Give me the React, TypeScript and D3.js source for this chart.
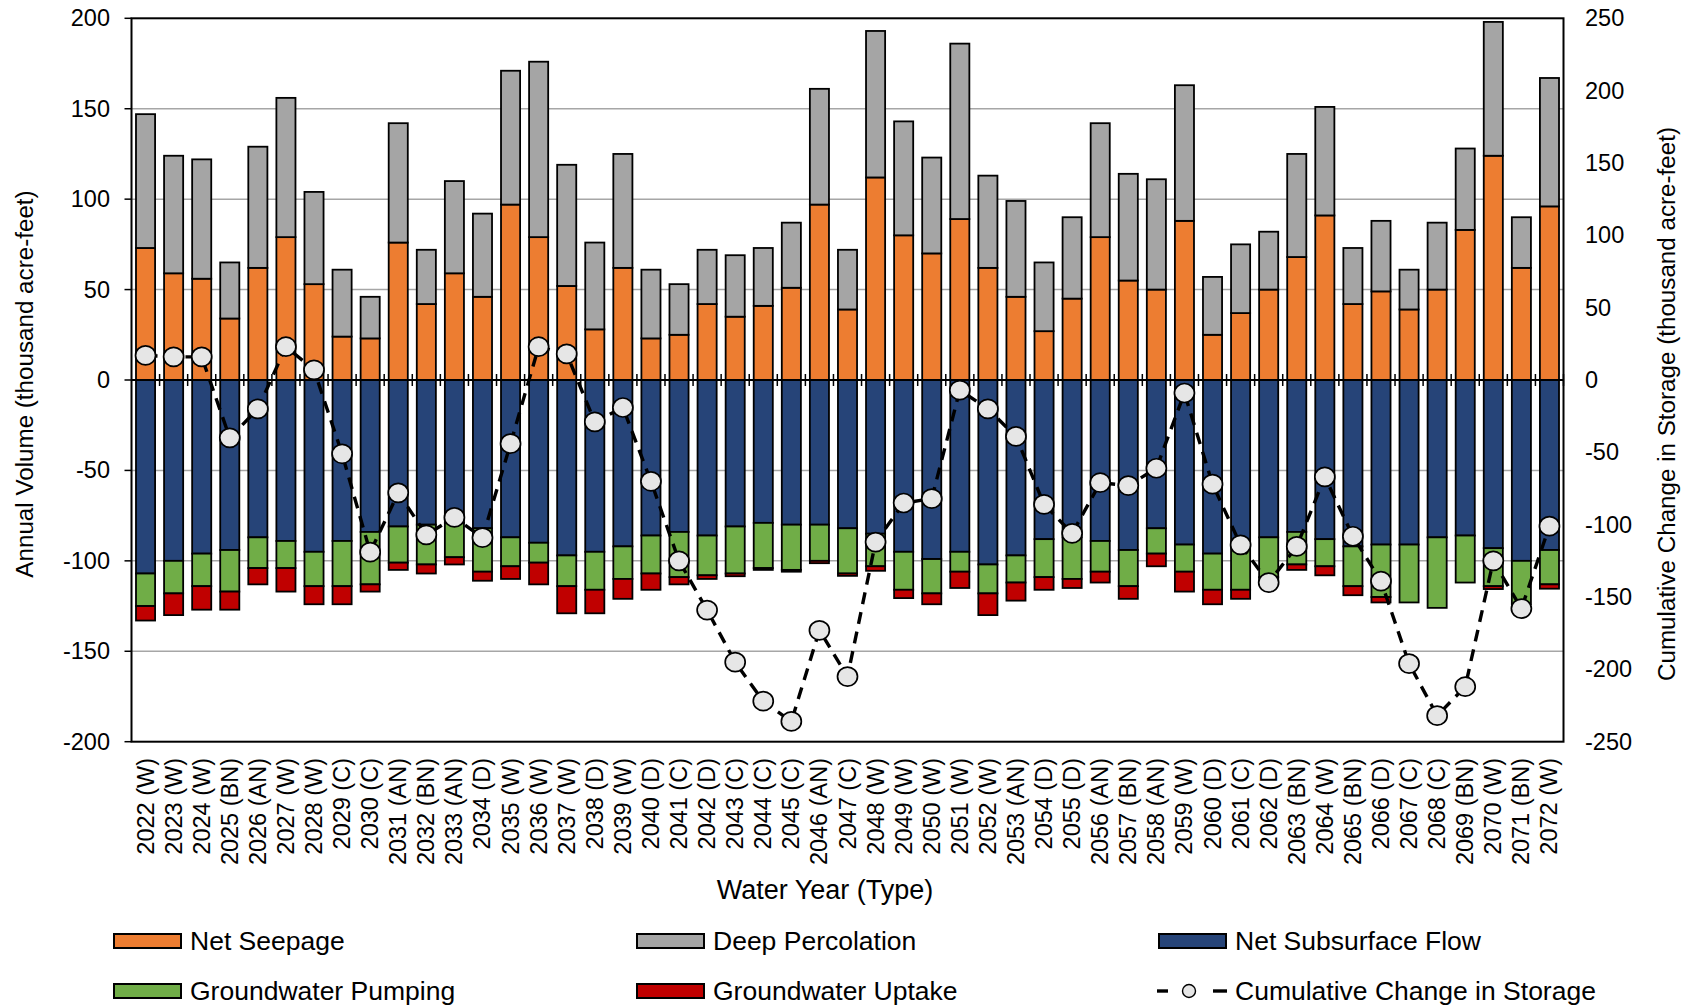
import React from 'react';
import * as d3 from 'd3';

// Water years and their type classification
const years = [
  2022, 2023, 2024, 2025, 2026, 2027, 2028, 2029, 2030, 2031, 2032, 2033, 2034, 2035, 2036, 2037, 2038,
  2039, 2040, 2041, 2042, 2043, 2044, 2045, 2046, 2047, 2048, 2049, 2050, 2051, 2052, 2053, 2054, 2055,
  2056, 2057, 2058, 2059, 2060, 2061, 2062, 2063, 2064, 2065, 2066, 2067, 2068, 2069, 2070, 2071, 2072,
];
const yearTypes = [
  'W', 'W', 'W', 'BN', 'AN', 'W', 'W', 'C', 'C', 'AN', 'BN', 'AN', 'D', 'W', 'W', 'W', 'D',
  'W', 'D', 'C', 'D', 'C', 'C', 'C', 'AN', 'C', 'W', 'W', 'W', 'W', 'W', 'AN', 'D', 'D',
  'AN', 'BN', 'AN', 'W', 'D', 'C', 'D', 'BN', 'W', 'BN', 'D', 'C', 'C', 'BN', 'W', 'BN', 'W',
];

// Inflows (thousand acre-feet)
const netSeepage = [
  73, 59, 56, 34, 62, 79, 53, 24, 23, 76, 42, 59, 46, 97, 79, 52, 28,
  62, 23, 25, 42, 35, 41, 51, 97, 39, 112, 80, 70, 89, 62, 46, 27, 45,
  79, 55, 50, 88, 25, 37, 50, 68, 91, 42, 49, 39, 50, 83, 124, 62, 96,
];
const deepPercolation = [
  74, 65, 66, 31, 67, 77, 51, 37, 23, 66, 30, 51, 46, 74, 97, 67, 48,
  63, 38, 28, 30, 34, 32, 36, 64, 33, 81, 63, 53, 97, 51, 53, 38, 45,
  63, 59, 61, 75, 32, 38, 32, 57, 60, 31, 39, 22, 37, 45, 74, 28, 71,
];
// Outflows (negative)
const netSubsurfaceFlow = [
  -107, -100, -96, -94, -87, -89, -95, -89, -84, -81, -80, -79, -82, -87, -90, -97, -95,
  -92, -86, -84, -86, -81, -79, -80, -80, -82, -85, -95, -99, -95, -102, -97, -88, -87,
  -89, -94, -82, -91, -96, -91, -87, -84, -88, -92, -91, -91, -87, -86, -93, -100, -94,
];
const groundwaterPumping = [
  -18, -18, -18, -23, -17, -15, -19, -25, -29, -20, -22, -19, -24, -16, -11, -17, -21,
  -18, -21, -25, -22, -26, -25, -25, -20, -25, -18, -21, -19, -11, -16, -15, -21, -23,
  -17, -20, -14, -15, -20, -25, -22, -18, -15, -22, -29, -32, -39, -26, -21, -24, -19,
];
const groundwaterUptake = [
  -8, -12, -13, -10, -9, -13, -10, -10, -4, -4, -5, -4, -5, -7, -12, -15, -13,
  -11, -9, -4, -2, -1.5, -1, -1, -1.3, -1.3, -2.5, -4.6, -6, -9, -12, -10, -7, -5,
  -6, -7, -7, -11, -8, -5, -1, -3, -5, -5, -3, 0, 0, 0, -1.6, 0, -2.4,
];
// Cumulative change in storage (right axis)
const cumulativeStorage = [
  17, 16, 16, -40, -20, 23, 7, -51, -119, -78, -107, -95, -109, -44, 23, 18, -29,
  -19, -70, -125, -159, -195, -222, -236, -173, -205, -112, -85, -82, -7, -20, -39, -86, -106,
  -71, -73, -61, -9, -72, -114, -140, -115, -67, -108, -139, -196, -232, -212, -125, -158, -101,
];

const leftTicks = [200, 150, 100, 50, 0, -50, -100, -150, -200];
const rightTicks = [250, 200, 150, 100, 50, 0, -50, -100, -150, -200, -250];

const series = [
  { key: 'seep', name: 'Net Seepage', color: '#ed7d31', values: netSeepage },
  { key: 'perc', name: 'Deep Percolation', color: '#a5a5a5', values: deepPercolation },
  { key: 'sub', name: 'Net Subsurface Flow', color: '#264478', values: netSubsurfaceFlow },
  { key: 'pump', name: 'Groundwater Pumping', color: '#70ad47', values: groundwaterPumping },
  { key: 'uptake', name: 'Groundwater Uptake', color: '#c00000', values: groundwaterUptake },
];

const W = 1688;
const H = 1008;
const FONT = "'Liberation Sans', Arial, sans-serif";
const plot = { left: 131.5, right: 1563.5, top: 18.3, bottom: 741.7 };

export default function App() {
  const labels = years.map((y, i) => `${y} (${yearTypes[i]})`);
  const x = d3.scaleBand<string>()
    .domain(labels)
    .range([plot.left, plot.right])
    .paddingInner(0.32)
    .paddingOuter(0.16);
  const y = d3.scaleLinear().domain([-200, 200]).range([plot.bottom, plot.top]);
  const y2 = d3.scaleLinear().domain([-250, 250]).range([plot.bottom, plot.top]);

  const rows = labels.map((label, i) => {
    const r: any = { label };
    series.forEach(s => { r[s.key] = s.values[i]; });
    return r;
  });
  const stacked = d3.stack<any>()
    .keys(series.map(s => s.key))
    .offset(d3.stackOffsetDiverging)(rows);

  const step = x.step();
  const cx = (l: string) => (x(l) as number) + x.bandwidth() / 2;

  const line = d3.line<number>()
    .x((_, i) => cx(labels[i]))
    .y(d => y2(d));

  const legendItems = [
    { ...series[0], lx: 114, ly: 941 },
    { ...series[1], lx: 637, ly: 941 },
    { ...series[2], lx: 1159, ly: 941 },
    { ...series[3], lx: 114, ly: 991 },
    { ...series[4], lx: 637, ly: 991 },
  ];

  return (
    <div style={{ position: 'absolute', left: 0, top: 0 }}>
      <svg width={W} height={H} style={{ display: 'block', background: '#fff' }} fontFamily={FONT}>
        {/* gridlines */}
        {leftTicks.filter(t => t !== 0 && Math.abs(t) !== 200).map(t => (
          <line key={t} x1={plot.left} x2={plot.right} y1={y(t)} y2={y(t)} stroke="#a6a6a6" strokeWidth={1.5} />
        ))}

        {/* stacked bars */}
        {stacked.map((layer, si) => (
          <g key={layer.key} fill={series[si].color} stroke="#000" strokeWidth={1.8}>
            {layer.map((d, i) => {
              if (Math.abs(d[1] - d[0]) < 0.01) return null;
              const y0 = y(Math.max(d[0], d[1]));
              const y1 = y(Math.min(d[0], d[1]));
              return (
                <rect key={i} x={x(labels[i])} y={y0} width={x.bandwidth()} height={y1 - y0} />
              );
            })}
          </g>
        ))}

        {/* zero axis line with category ticks */}
        <line x1={plot.left} x2={plot.right} y1={y(0)} y2={y(0)} stroke="#000" strokeWidth={2} />
        {labels.map((l, i) => (
          <line key={l} x1={plot.left + step * (i + 1)} x2={plot.left + step * (i + 1)}
            y1={y(0) - 6} y2={y(0) + 6} stroke="#000" strokeWidth={1.5} />
        ))}

        {/* frame */}
        <rect x={plot.left} y={plot.top} width={plot.right - plot.left} height={plot.bottom - plot.top}
          fill="none" stroke="#000" strokeWidth={2} />

        {/* left axis */}
        {leftTicks.map(t => (
          <g key={t}>
            <line x1={plot.left - 7} x2={plot.left} y1={y(t)} y2={y(t)} stroke="#000" strokeWidth={1.5} />
            <text x={110} y={y(t)} textAnchor="end" dominantBaseline="central" fontSize={23.5}>{t}</text>
          </g>
        ))}
        {/* right axis */}
        {rightTicks.map(t => (
          <text key={t} x={1585} y={y2(t)} textAnchor="start" dominantBaseline="central" fontSize={23.5}>{t}</text>
        ))}

        {/* cumulative storage line */}
        <path d={line(cumulativeStorage) || ''} fill="none" stroke="#000" strokeWidth={3.4} strokeDasharray="12,8" />
        {cumulativeStorage.map((v, i) => (
          <ellipse key={i} cx={cx(labels[i])} cy={y2(v)} rx={10} ry={9.5} fill="#e6e6e6" stroke="#000" strokeWidth={1.7} />
        ))}

        {/* x tick labels */}
        {labels.map(l => (
          <text key={l} transform={`translate(${cx(l)},758) rotate(-90)`} textAnchor="end"
            dominantBaseline="central" fontSize={23.5}>{l}</text>
        ))}

        {/* axis titles */}
        <text x={825} y={899} textAnchor="middle" fontSize={27}>Water Year (Type)</text>
        <text transform={`translate(24,${(plot.top + plot.bottom) / 2 + 4}) rotate(-90)`} textAnchor="middle"
          dominantBaseline="central" fontSize={24.2}>Annual Volume (thousand acre-feet)</text>
        <text transform={`translate(1666,${(plot.top + plot.bottom) / 2 + 24}) rotate(-90)`} textAnchor="middle"
          dominantBaseline="central" fontSize={24.2}>Cumulative Change in Storage (thousand acre-feet)</text>

        {/* legend */}
        {legendItems.map(it => (
          <g key={it.key}>
            <rect x={it.lx} y={it.ly - 7} width={67} height={14} fill={it.color} stroke="#000" strokeWidth={2} />
            <text x={it.lx + 76} y={it.ly} dominantBaseline="central" fontSize={26.5}>{it.name}</text>
          </g>
        ))}
        <g>
          <line x1={1157} x2={1168} y1={991} y2={991} stroke="#000" strokeWidth={3.4} />
          <circle cx={1189} cy={991} r={6.5} fill="#e6e6e6" stroke="#000" strokeWidth={1.4} />
          <line x1={1213} x2={1227} y1={991} y2={991} stroke="#000" strokeWidth={3.4} />
          <text x={1235} y={991} dominantBaseline="central" fontSize={26.5}>Cumulative Change in Storage</text>
        </g>
      </svg>
    </div>
  );
}
